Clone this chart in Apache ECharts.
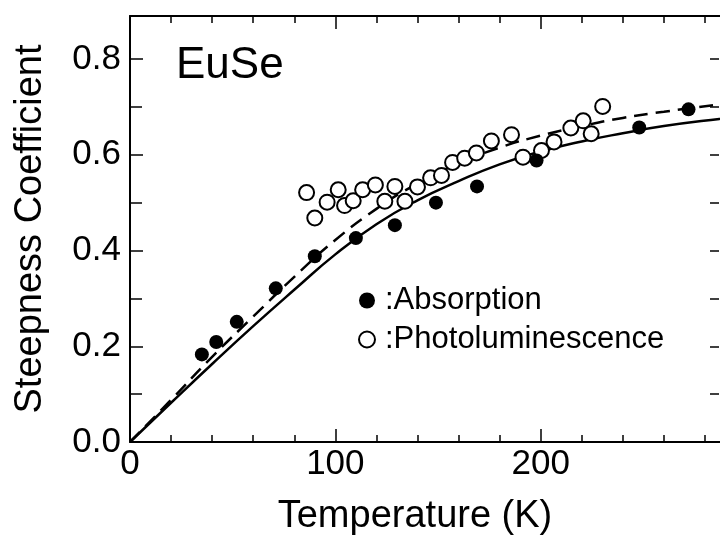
<!DOCTYPE html>
<html>
<head>
<meta charset="utf-8">
<script src="https://cdn.jsdelivr.net/npm/echarts@6/dist/echarts.min.js"></script>
<style>
  html, body { margin: 0; padding: 0; background: #fff; }
  #chart { width: 720px; height: 538px; }
</style>
</head>
<body>
<div id="chart"></div>
<script>
// Absorption (filled dots)
const absT = [35, 42, 52, 71, 90, 110, 129, 149, 169, 198, 248, 272];
const absS = [0.183, 0.209, 0.251, 0.321, 0.388, 0.426, 0.453, 0.500, 0.534, 0.588, 0.657, 0.695];

// Photoluminescence (open circles)
const plT = [86, 90, 96, 101.4, 104.5, 108.7, 113.3, 119.5, 124.1, 129, 133.9, 140, 146.4, 151.7, 157.1, 163, 168.7, 176, 185.8, 191.4, 200.4, 206.5, 214.7, 220.7, 224.6, 230.2];
const plS = [0.521, 0.468, 0.501, 0.527, 0.494, 0.504, 0.527, 0.537, 0.503, 0.534, 0.503, 0.533, 0.552, 0.557, 0.584, 0.593, 0.604, 0.629, 0.642, 0.595, 0.609, 0.627, 0.656, 0.671, 0.644, 0.701];

// fitted curves
const curveT = [0, 20, 40, 60, 80, 100, 120, 140, 160, 180, 200, 220, 240, 260, 287, 300];
const solidS = [0, 0.082, 0.163, 0.242, 0.318, 0.392, 0.455, 0.505, 0.545, 0.580, 0.607, 0.628, 0.645, 0.660, 0.675, 0.681];
const dashedS = [0, 0.088, 0.178, 0.262, 0.345, 0.422, 0.487, 0.540, 0.582, 0.615, 0.640, 0.660, 0.677, 0.690, 0.705, 0.711];

const xTicks = [0, 100, 200];
const yTicks = [0, 0.2, 0.4, 0.6, 0.8];

const font = '"Liberation Sans", Arial, Helvetica, sans-serif';
const ink = '#000';

const pairs = (xs, ys) => xs.map((x, i) => [x, ys[i]]);
const isTick = (list, v) => list.some(t => Math.abs(t - v) < 1e-6);

const chart = echarts.init(document.getElementById('chart'));

// plot runs a little past the right edge of the picture (to 300 K)
const xBase = { type: 'value', min: 0, max: 300, splitLine: { show: false } };
const yBase = { type: 'value', min: 0, max: 0.89, splitLine: { show: false } };
const line = show => ({ show: show, onZero: false, lineStyle: { color: ink, width: 2 } });
const tick = (len, inside) => ({ show: true, inside: inside !== false, length: len, lineStyle: { color: ink, width: 1.5 } });

chart.setOption({
    animation: false,
    backgroundColor: '#fff',
    title: {
        text: 'EuSe',
        left: 176,
        top: 44,
        padding: 0,
        textStyle: { fontFamily: font, fontSize: 44, fontWeight: 'normal', color: ink }
    },
    legend: {
        data: ['Absorption', 'Photoluminescence'],
        orient: 'vertical',
        left: 358,
        top: 285,
        padding: 0,
        itemWidth: 16,
        itemHeight: 16,
        itemGap: 8,
        icon: 'circle',
        formatter: ':{name}',
        textStyle: { fontFamily: font, fontSize: 31, color: ink, padding: [0, 0, 0, 5] }
    },
    grid: { left: 130, right: -26, top: 16, bottom: 96, outerBoundsMode: 'none', containLabel: false },
    xAxis: [
        Object.assign({}, xBase, {
            position: 'bottom',
            interval: 100,
            axisLine: line(true),
            axisTick: tick(13),
            axisLabel: {
                margin: 5, fontFamily: font, fontSize: 35, color: ink,
                formatter: v => isTick(xTicks, v) ? String(v) : ''
            },
            name: 'Temperature (K)',
            nameLocation: 'middle',
            nameGap: 56,
            nameTextStyle: { fontFamily: font, fontSize: 38, color: ink, padding: [0, 46, 0, 0] }
        }),
        Object.assign({}, xBase, {
            position: 'bottom',
            interval: 20,
            axisLine: line(false),
            axisTick: tick(7),
            axisLabel: { show: false }
        }),
        Object.assign({}, xBase, {
            position: 'top',
            interval: 100,
            axisLine: line(true),
            axisTick: tick(13),
            axisLabel: { show: false }
        }),
        Object.assign({}, xBase, {
            position: 'top',
            interval: 20,
            axisLine: line(false),
            axisTick: tick(7),
            axisLabel: { show: false }
        })
    ],
    yAxis: [
        Object.assign({}, yBase, {
            position: 'left',
            interval: 0.2,
            axisLine: line(true),
            axisTick: tick(13),
            axisLabel: {
                margin: 9, fontFamily: font, fontSize: 35, color: ink,
                formatter: v => isTick(yTicks, v) ? v.toFixed(1) : ''
            },
            name: 'Steepness Coefficient',
            nameLocation: 'middle',
            nameGap: 80,
            nameTextStyle: { fontFamily: font, fontSize: 38, color: ink }
        }),
        Object.assign({}, yBase, {
            position: 'left',
            interval: 0.1,
            axisLine: line(false),
            axisTick: tick(12),
            axisLabel: { show: false }
        }),
        // ticks along the picture's right edge: a left-type axis shifted to x = 719
        Object.assign({}, yBase, {
            position: 'left',
            offset: -589,
            interval: 0.1,
            axisLine: line(false),
            axisTick: tick(9, false),
            axisLabel: { show: false }
        })
    ],
    series: [
        {
            name: 'fit',
            type: 'line',
            data: pairs(curveT, solidS),
            smooth: true,
            symbol: 'none',
            lineStyle: { color: ink, width: 2.5 },
            z: 2
        },
        {
            name: 'fit2',
            type: 'line',
            data: pairs(curveT, dashedS),
            smooth: true,
            symbol: 'none',
            lineStyle: { color: ink, width: 2.5, type: [14, 8] },
            z: 2
        },
        {
            name: 'Absorption',
            type: 'scatter',
            data: pairs(absT, absS),
            symbol: 'circle',
            symbolSize: 14,
            itemStyle: { color: ink, opacity: 1 },
            z: 4
        },
        {
            name: 'Photoluminescence',
            type: 'scatter',
            data: pairs(plT, plS),
            symbol: 'circle',
            symbolSize: 15,
            itemStyle: { color: '#fff', borderColor: ink, borderWidth: 2, opacity: 1 },
            z: 3
        }
    ]
});
</script>
</body>
</html>
